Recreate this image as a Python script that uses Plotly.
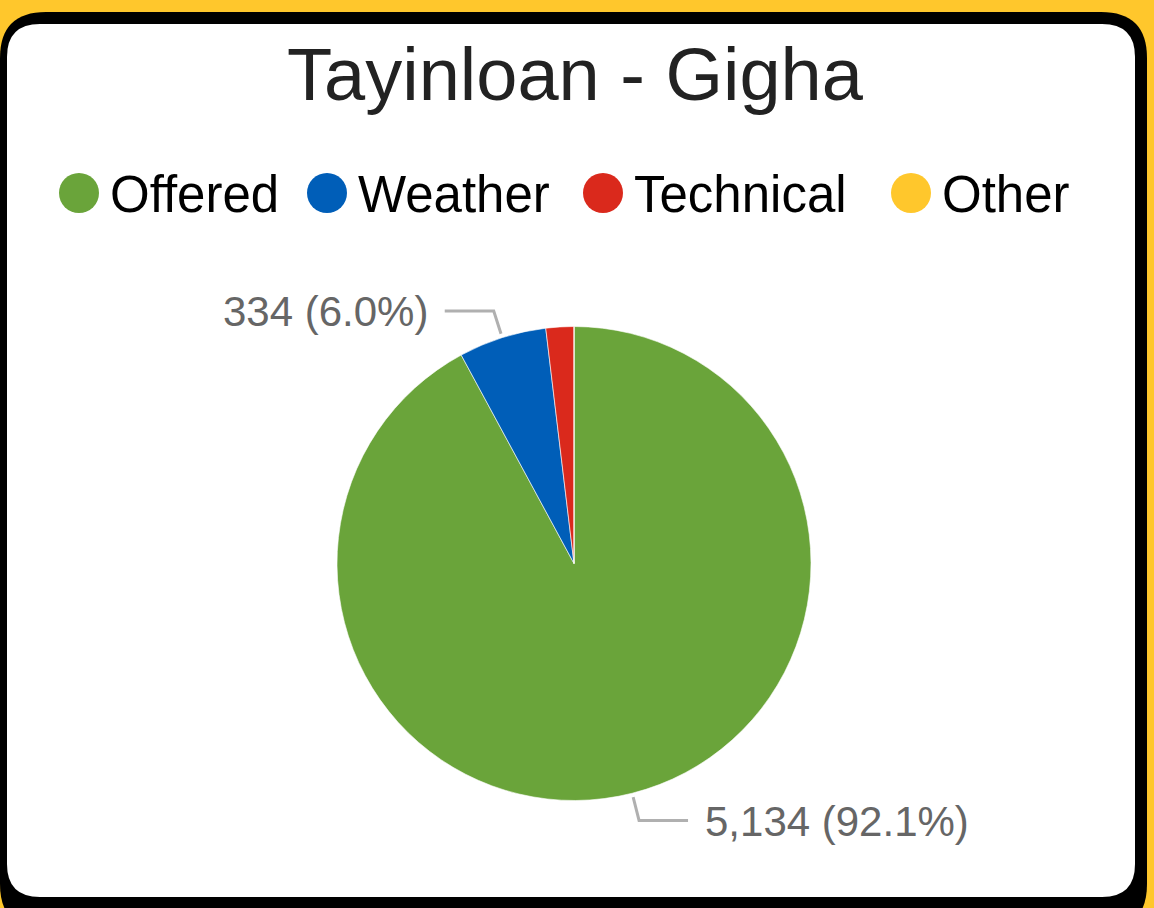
import math
import plotly.graph_objects as go

# ---- data ----
categories = ["Offered", "Weather", "Technical", "Other"]
values = [5134, 334, 106, 0]
colors = ["#6aa43a", "#005eb8", "#da291c", "#ffc72c"]
title_text = "Tayinloan - Gigha"

W, H = 1154, 908
FONT = "Arial, 'Liberation Sans', sans-serif"


def px(x):
    return x / W


def py(y):
    return 1 - y / H


def rounded_rect(x0, y0, x1, y1, r):
    pts = [
        f"M {px(x0 + r)},{py(y0)}",
        f"L {px(x1 - r)},{py(y0)}",
        f"Q {px(x1)},{py(y0)} {px(x1)},{py(y0 + r)}",
        f"L {px(x1)},{py(y1 - r)}",
        f"Q {px(x1)},{py(y1)} {px(x1 - r)},{py(y1)}",
        f"L {px(x0 + r)},{py(y1)}",
        f"Q {px(x0)},{py(y1)} {px(x0)},{py(y1 - r)}",
        f"L {px(x0)},{py(y0 + r)}",
        f"Q {px(x0)},{py(y0)} {px(x0 + r)},{py(y0)}",
        "Z",
    ]
    return " ".join(pts)


# pie geometry (pixels)
cx, cy, R = 574, 563.5, 237

fig = go.Figure()
fig.add_trace(go.Pie(
    labels=categories,
    values=values,
    marker=dict(colors=colors, line=dict(color="white", width=0.6)),
    sort=False,
    direction="clockwise",
    rotation=0,
    textinfo="none",
    hoverinfo="label+value+percent",
    showlegend=False,
    domain=dict(x=[px(cx - R), px(cx + R)], y=[py(cy + R), py(cy - R)]),
))

shapes = [
    dict(type="path", xref="paper", yref="paper", path=rounded_rect(0, 12, 1147, 930, 46),
         fillcolor="black", line=dict(width=0), layer="below"),
    dict(type="path", xref="paper", yref="paper", path=rounded_rect(7, 24, 1135, 897, 33),
         fillcolor="white", line=dict(width=0), layer="below"),
]
annotations = []

# ---- custom legend (circle markers) ----
legend_y = 193
legend_x = [79, 327, 603, 911]
for name, col, lx in zip(categories, colors, legend_x):
    shapes.append(dict(type="circle", xref="paper", yref="paper",
                       x0=px(lx - 20), x1=px(lx + 20), y0=py(legend_y + 20), y1=py(legend_y - 20),
                       fillcolor=col, line=dict(width=0)))
    annotations.append(dict(x=px(lx + 29), y=py(legend_y + 1), xref="paper", yref="paper",
                            text=name, showarrow=False, xanchor="left", yanchor="middle",
                            font=dict(family=FONT, size=51, color="#000000")))

# ---- slice labels with leader lines ----
total = sum(values)
cum = 0
for v in values:
    frac = v / total if total else 0
    mid = (cum + frac / 2) * 2 * math.pi
    cum += frac
    if frac < 0.05:
        continue
    sx, sy = math.sin(mid), -math.cos(mid)
    ax, ay = cx + (R + 4) * sx, cy + (R + 4) * sy
    bx, by = cx + (R + 28) * sx, cy + (R + 28) * sy
    side = 1 if sx >= 0 else -1
    ex = bx + side * 49
    shapes.append(dict(type="path", xref="paper", yref="paper",
                       path=f"M {px(ax)},{py(ay)} L {px(bx)},{py(by)} L {px(ex)},{py(by)}",
                       line=dict(color="#b0b0b0", width=3)))
    label = f"{v:,} ({frac * 100:.1f}%)"
    annotations.append(dict(x=px(ex + side * 15), y=py(by + 1), xref="paper", yref="paper",
                            text=label, showarrow=False,
                            xanchor="left" if side > 0 else "right", yanchor="middle",
                            font=dict(family=FONT, size=42, color="#666666")))

fig.update_layout(
    width=W, height=H,
    margin=dict(l=0, r=0, t=0, b=0),
    paper_bgcolor="#ffc72c",
    plot_bgcolor="white",
    title=dict(text=title_text, x=px(575), xanchor="center", y=py(74), yanchor="middle",
               yref="container", font=dict(family=FONT, size=74, color="#222222")),
    shapes=shapes,
    annotations=annotations,
    showlegend=False,
)

fig.write_html(
    "out.html",
    config={"displayModeBar": False},
    post_script="document.body.style.margin='0';document.body.style.overflow='hidden';"
                "document.body.style.background='#ffc72c';",
)
